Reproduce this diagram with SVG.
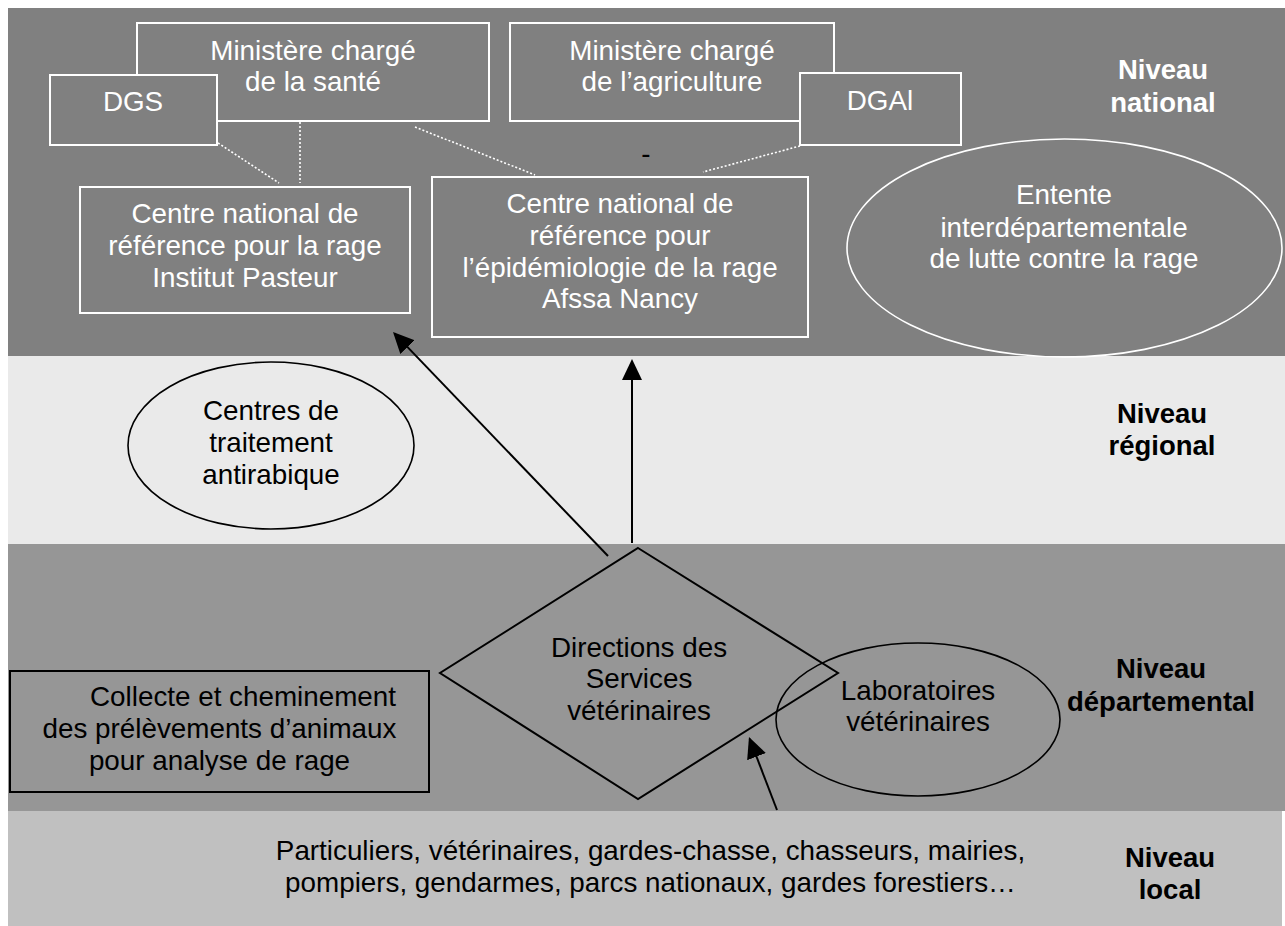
<svg xmlns="http://www.w3.org/2000/svg" width="1285" height="926" viewBox="0 0 1285 926">
<defs>
<style>
text{font-family:"Liberation Sans",Arial,sans-serif;font-size:27.8px;text-anchor:middle}
.w{fill:#ffffff}
.k{fill:#000000}
.b{font-weight:bold;font-size:27.5px}
.wbox{fill:#808080;stroke:#ffffff;stroke-width:2}
.kbox{fill:none;stroke:#000000;stroke-width:2}
.dot{stroke:#ffffff;stroke-width:1.6;stroke-dasharray:2 2;fill:none}
.arr{stroke:#000000;stroke-width:2;fill:none;marker-end:url(#ah)}
</style>
<marker id="ah" markerUnits="userSpaceOnUse" markerWidth="21" markerHeight="20" viewBox="0 0 21 20" refX="19" refY="10" orient="auto">
<path d="M0,0 L21,10 L0,20 z" fill="#000000"/>
</marker>
</defs>
<rect x="0" y="0" width="1285" height="926" fill="#ffffff"/>
<g id="bands">
<rect x="8" y="8" width="1277" height="348" fill="#808080"/>
<rect x="8" y="356" width="1277" height="188" fill="#eaeaea"/>
<rect x="8" y="544" width="1277" height="267" fill="#969696"/>
<rect x="8" y="811" width="1274" height="115" fill="#c0c0c0"/>
</g>
<g id="connectors">
<line class="dot" x1="218" y1="143" x2="279" y2="183"/>
<line class="dot" x1="300" y1="118" x2="300" y2="183"/>
<line class="dot" x1="415" y1="127" x2="535" y2="175"/>
<line class="dot" x1="800" y1="146" x2="703" y2="172"/>
<line class="arr" x1="632" y1="543" x2="632" y2="361"/>
<line class="arr" x1="608" y1="556" x2="394.4" y2="333.4"/>
<line class="arr" x1="777" y1="810" x2="749.7" y2="738.9"/>
</g>
<g id="ministere-sante">
<rect class="wbox" x="137" y="23" width="352" height="98"/>
<text class="w" x="313" y="60">Ministère chargé</text>
<text class="w" x="313" y="91">de la santé</text>
</g>
<g id="dgs">
<rect class="wbox" x="50" y="75" width="167" height="70"/>
<text class="w" x="133" y="111">DGS</text>
</g>
<g id="ministere-agriculture">
<rect class="wbox" x="510" y="23" width="324" height="98"/>
<text class="w" x="672" y="60">Ministère chargé</text>
<text class="w" x="672" y="91">de l’agriculture</text>
</g>
<g id="dgal">
<rect class="wbox" x="800" y="73" width="161" height="72"/>
<text class="w" x="880" y="110">DGAl</text>
</g>
<g id="dash">
<text class="k" x="646" y="163">-</text>
</g>
<g id="cnr-pasteur">
<rect class="wbox" x="80" y="187" width="330" height="126"/>
<text class="w" x="245" y="223">Centre national de</text>
<text class="w" x="245" y="255">référence pour la rage</text>
<text class="w" x="245" y="287">Institut Pasteur</text>
</g>
<g id="cnr-afssa">
<rect class="wbox" x="432" y="177" width="376" height="160"/>
<text class="w" x="620" y="213">Centre national de</text>
<text class="w" x="620" y="245">référence pour</text>
<text class="w" x="620" y="277">l’épidémiologie de la rage</text>
<text class="w" x="620" y="308">Afssa Nancy</text>
</g>
<g id="entente">
<ellipse cx="1064.5" cy="248" rx="217.5" ry="109" fill="none" stroke="#ffffff" stroke-width="1.6"/>
<text class="w" x="1064" y="204">Entente</text>
<text class="w" x="1064" y="237">interdépartementale</text>
<text class="w" x="1064" y="268">de lutte contre la rage</text>
</g>
<g id="label-national">
<text class="w b" x="1163" y="79">Niveau</text>
<text class="w b" x="1163" y="112">national</text>
</g>
<g id="centres-traitement">
<ellipse cx="271" cy="445.5" rx="143" ry="83.5" fill="none" stroke="#000000" stroke-width="1.6"/>
<text class="k" x="271" y="420">Centres de</text>
<text class="k" x="271" y="452">traitement</text>
<text class="k" x="271" y="484">antirabique</text>
</g>
<g id="label-regional">
<text class="k b" x="1162" y="423">Niveau</text>
<text class="k b" x="1162" y="455">régional</text>
</g>
<g id="dsv">
<polygon class="kbox" points="638,548 838,673 638,799 440,673"/>
<text class="k" x="639" y="657">Directions des</text>
<text class="k" x="639" y="688">Services</text>
<text class="k" x="639" y="720">vétérinaires</text>
</g>
<g id="laboratoires">
<ellipse cx="918" cy="719.5" rx="142" ry="76.5" fill="none" stroke="#000000" stroke-width="1.6"/>
<text class="k" x="918" y="700">Laboratoires</text>
<text class="k" x="918" y="731">vétérinaires</text>
</g>
<g id="collecte">
<rect class="kbox" x="10" y="671" width="419" height="121"/>
<text class="k" x="243" y="706">Collecte et cheminement</text>
<text class="k" x="219.5" y="738">des prélèvements d’animaux</text>
<text class="k" x="219.5" y="770">pour analyse de rage</text>
</g>
<g id="label-departemental">
<text class="k b" x="1161" y="678">Niveau</text>
<text class="k b" x="1161" y="711">départemental</text>
</g>
<g id="local-acteurs">
<text class="k" x="650.5" y="860">Particuliers, vétérinaires, gardes-chasse, chasseurs, mairies,</text>
<text class="k" x="650.5" y="892">pompiers, gendarmes, parcs nationaux, gardes forestiers…</text>
</g>
<g id="label-local">
<text class="k b" x="1170" y="867">Niveau</text>
<text class="k b" x="1170" y="899">local</text>
</g>
</svg>
